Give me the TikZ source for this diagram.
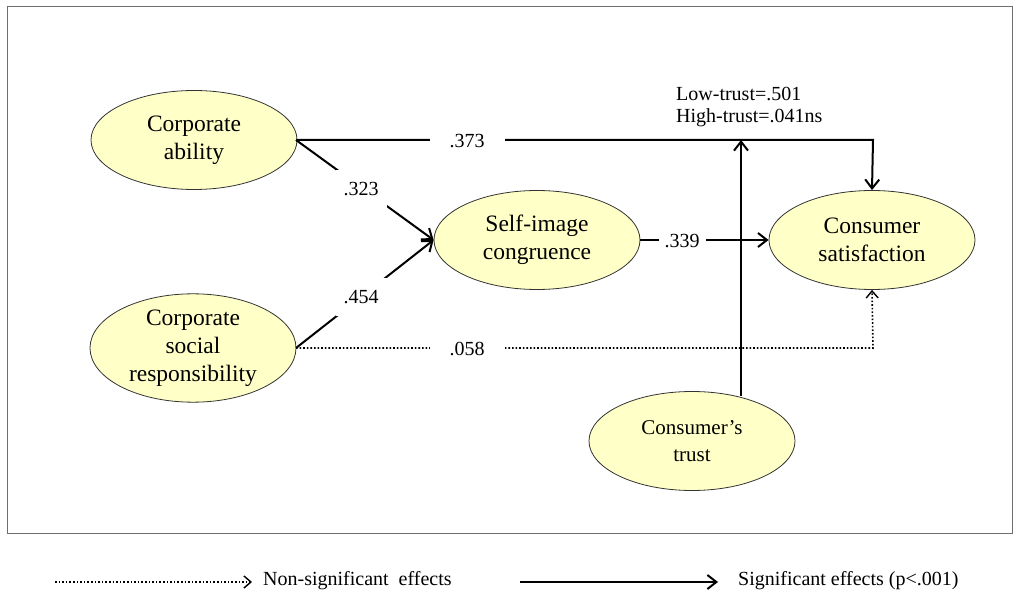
\documentclass[tikz,border=0pt]{standalone}
\usepackage{fontspec}
\setmainfont{Liberation Serif}
\usetikzlibrary{arrows.meta,shapes.geometric}
\definecolor{ellfill}{RGB}{255,255,200}
\definecolor{framegray}{RGB}{110,110,110}
\tikzset{
  latent/.style={ellipse, draw=black!80, line width=0.8pt, fill=ellfill,
    minimum width=206pt, minimum height=99pt, inner sep=0pt, align=center,
    font=\fontsize{23.5}{28}\selectfont},
  sig/.style={line width=2pt, -{Straight Barb[length=9pt,width=14pt,line width=2pt]}},
  nonsig/.style={line width=1.6pt, dotted, -{Straight Barb[length=7pt,width=12pt,line width=1.4pt]}},
  coef/.style={fill=white, inner xsep=20pt, inner ysep=3pt, font=\fontsize{20}{22}\selectfont},
  coefd/.style={fill=white, inner xsep=8pt, inner ysep=12pt, font=\fontsize{20}{22}\selectfont},
  legendtext/.style={anchor=west, inner sep=0pt, font=\fontsize{20}{22}\selectfont},
}
\begin{document}
\begin{tikzpicture}[x=1pt,y=-1pt]
\useasboundingbox (0,0) rectangle (1018,593);
\draw[framegray, line width=1pt] (7,7) rectangle (1012,533);

\node[latent] (ca) at (194,140) {Corporate\\ability};
\node[latent] (csr) at (193,348) {Corporate\\social\\responsibility};
\node[latent] (sic) at (537,240) {Self-image\\congruence};
\node[latent] (cs) at (872,240) {Consumer\\satisfaction};
\node[latent, font=\fontsize{21}{27}\selectfont] (ct) at (692,441) {Consumer's\\trust};

\coordinate (caE) at (296,140);
\coordinate (csrE) at (296,348);
\coordinate (c373) at (873,140);
\coordinate (c058) at (873,348);
\coordinate (mod) at (741,140);
\coordinate (ctN) at (741,396);

% .373
\draw[sig] (caE) -- (c373) -- (cs.north);
\node[coef] at (467,141) {.373};
% .323 and .454
\draw[sig] (caE) -- (sic.west);
\node[coefd] at (361,189) {.323};
\draw[sig] (csrE) -- (sic.west);
\node[coefd] at (361,297) {.454};
% .058
\draw[nonsig] (csrE) -- (c058) -- (cs.south);
\node[coef] at (467,349) {.058};
% moderator
\draw[sig] (ctN) -- (mod);
% .339
\draw[sig] (sic.east) -- (cs.west);
\node[coef, inner xsep=6pt] at (682,241) {.339};

\node[anchor=west, inner sep=0pt, align=left, font=\fontsize{20}{21.5}\selectfont] (mt) at (676,107) {Low-trust=.501\\High-trust=.041ns};

% legend
\coordinate (l1a) at (55,582);
\coordinate (l1b) at (252,582);
\coordinate (l2a) at (520,582);
\coordinate (l2b) at (718,582);
\draw[nonsig] (l1a) -- (l1b);
\node[legendtext] (lt1) at (263,581) {Non-significant\ \ effects};
\draw[sig] (l2a) -- (l2b);
\node[legendtext] (lt2) at (738,581) {Significant effects (p<.001)};
\end{tikzpicture}
\end{document}
